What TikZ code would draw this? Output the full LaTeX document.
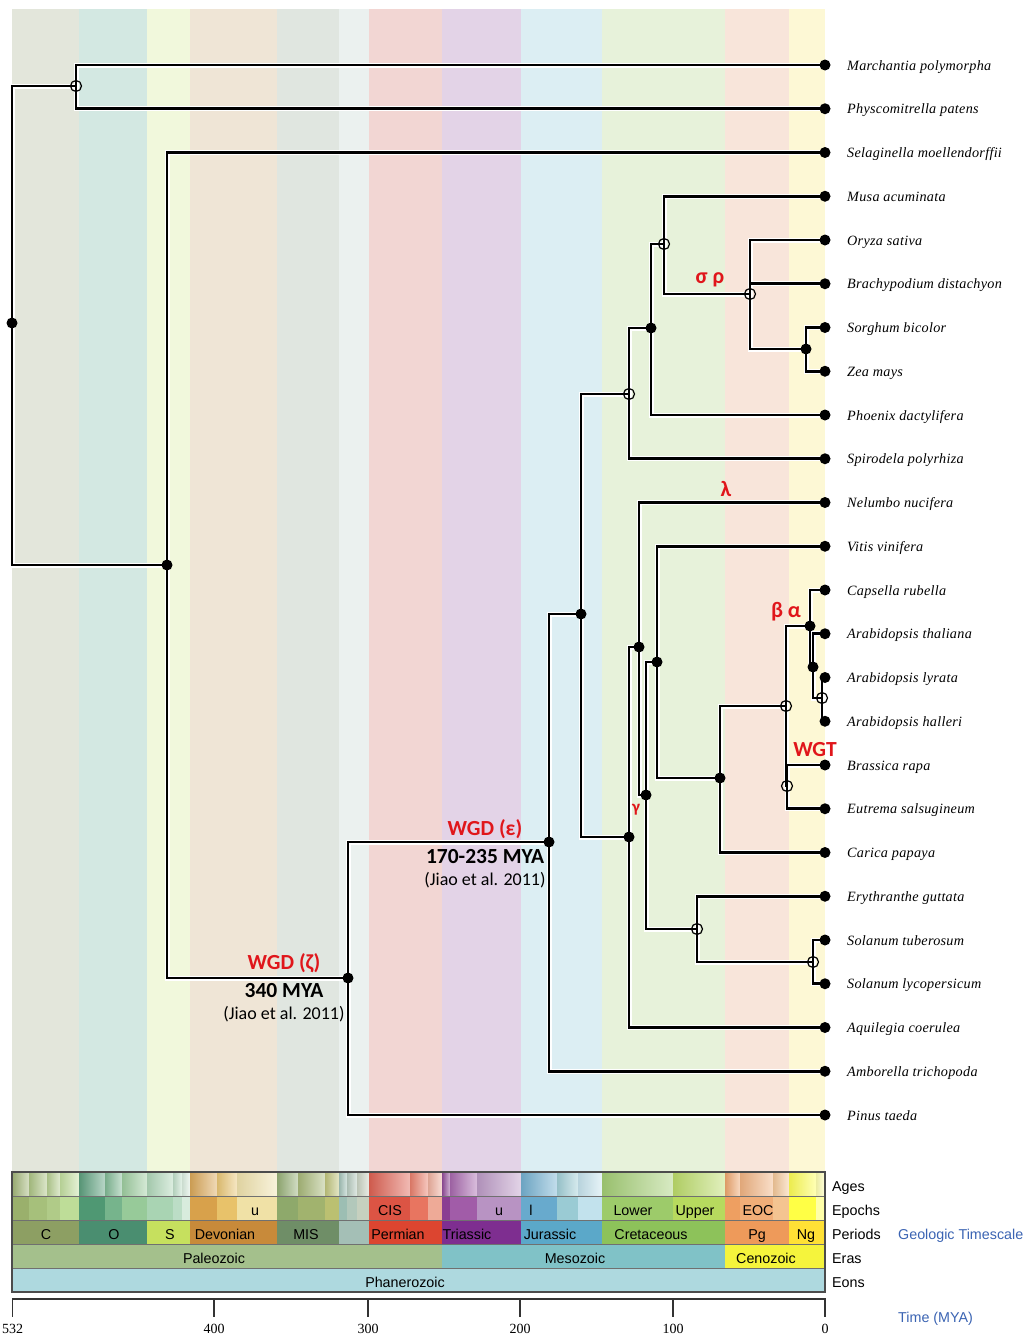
\documentclass[tikz,border=0pt]{standalone}
\usepackage{fontspec}
\setmainfont{Liberation Serif}
\newfontfamily\calib{Carlito}
\newfontfamily\arial{Liberation Sans}
\newfontfamily\leaffont{Liberation Serif}[LetterSpace=2]
\definecolor{wred}{HTML}{E0161B}
\definecolor{tblue}{HTML}{3B64B3}
\definecolor{gridgray}{HTML}{707070}
\tikzset{
  halo/.style={white, line width=5pt},
  branch/.style={black, line width=2.8pt},
  fdot/.style={circle, fill=black, inner sep=0pt, minimum size=11pt},
  odot/.style={circle, draw=black, line width=1.2pt, inner sep=0pt, minimum size=11pt},
  leaflab/.style={anchor=base west, inner sep=0pt, font=\leaffont\itshape\fontsize{14.2}{16}\selectfont},
  tslab/.style={anchor=base, inner sep=0pt, font=\arial\fontsize{14.3}{16}\selectfont},
  rowlab/.style={anchor=base west, inner sep=0pt, font=\arial\fontsize{14.3}{16}\selectfont},
  axlab/.style={anchor=base, inner sep=0pt, font=\fontsize{14}{16}\selectfont},
  wgd/.style={inner sep=0pt, text=wred, font=\calib\bfseries\fontsize{21.5}{24}\selectfont},
  mya/.style={inner sep=0pt, font=\calib\bfseries\fontsize{21.5}{24}\selectfont},
  cite/.style={inner sep=0pt, font=\calib\fontsize{18}{20}\selectfont},
  greek/.style={inner sep=0pt, text=wred, font=\calib\bfseries\fontsize{22}{24}\selectfont},
}
\newcommand\treeedges[1]{%
  \foreach \p/\c in {root/bryo, root/trach, bryo/march, bryo/physco,
    trach/sela, trach/seed, seed/angio, seed/pinus, angio/mesang, angio/ambo,
    mesang/mono, mesang/eudn, mono/monob, mono/spiro, monob/monoc, monob/phoen,
    monoc/musa, monoc/poac, poac/oryza, poac/brachy, poac/pani, pani/sorg, pani/zea,
    eudn/eud, eudn/aqui, eud/nelum, eud/core, core/ros, core/ast,
    ros/vitis, ros/rosb, rosb/brasa, rosb/cari, brasa/brasc, brasa/brasb,
    brasb/brass, brasb/eutr, brasc/caps, brasc/brasd, brasd/athal, brasd/brase,
    brase/alyr, brase/ahal, ast/eryth, ast/sol, sol/stub, sol/slyc}
    {\draw[#1] (\p) |- (\c);}%
}
\begin{document}
\begin{tikzpicture}[x=1pt,y=-1pt]
\useasboundingbox (0,0) rectangle (1032,1339);
\fill[white] (0,0) rectangle (1032,1339);
% background period bands
\foreach \a/\b/\c in {12/79/E3E6DB, 79/147/D3E8E2, 147/190/F1F8DC, 190/277/EFE5D6,
  277/339/E0E6E0, 339/369/EBF1EF, 369/442/F2D6D3, 442/521/E3D3E7, 521/602/DCEEF3,
  602/725/E7F2DA, 725/789/F8E5DA, 789/825/FDF8D5}
  {\definecolor{bandc}{HTML}{\c}\fill[bandc] (\a,9) rectangle (\b,1172);}
% ages and epochs rows
\foreach \a/\b/\c in {12/29/9AB06C, 29/47/A6C07B, 47/60/B0CB88, 60/79/BEDD98,
  79/105/4F9873, 105/122/76B48C, 122/147/97CA99,
  147/173/A9D4B3, 173/182/BCDDC6, 182/190/D8ECDD,
  190/217/D8A14B, 217/237/E8C26A, 237/277/F0E1A6,
  277/298/8EA96B, 298/325/A1B36E, 325/339/BBC071,
  339/347/9CBEB3, 347/357/B2C8BB, 357/369/C6D0BF,
  369/410/DC5444, 410/428/E87560, 428/442/EEAA97,
  442/450/8A3E92, 450/477/A15CA8, 477/521/B893C3,
  521/557/68AACD, 557/578/9ACBD4, 578/602/C2E2ED,
  602/673/9DCB6A, 673/725/B7DA5E,
  725/740/EE9F61, 740/773/F1AE78, 773/789/F4C491,
  789/816/FFFF45, 816/825/FFFFA8}
  {\definecolor{epc}{HTML}{\c}%
   \fill[epc] (\a,1196) rectangle (\b,1220);
   \shade[left color=epc!85!gray, right color=epc!40!white] (\a,1172) rectangle (\b,1196);}
% periods row
\foreach \a/\b/\c in {12/79/8D9F63, 79/147/4A8E70, 147/190/C6E05E, 190/277/C88A3A,
  277/339/6F8E67, 339/369/A4BFB6, 369/442/DC4530, 442/521/7E2E90, 521/602/5BA8C9,
  602/725/8DC25A, 725/789/EE9A5A, 789/825/FFE135}
  {\definecolor{perc}{HTML}{\c}\fill[perc] (\a,1220) rectangle (\b,1244);}
% eras and eons
\definecolor{paleo}{HTML}{A4C08C}\definecolor{meso}{HTML}{80C2C7}
\definecolor{ceno}{HTML}{F5F43C}\definecolor{phan}{HTML}{AED9DF}
\fill[paleo] (12,1244) rectangle (442,1268);
\fill[meso] (442,1244) rectangle (725,1268);
\fill[ceno] (725,1244) rectangle (825,1268);
\fill[phan] (12,1268) rectangle (825,1292);
\foreach \yy in {1172,1196,1220,1244,1268}
  {\draw[gridgray, line width=0.9pt] (12,\yy) -- (825,\yy);}
\draw[black!70, line width=1.2pt] (12,1172) rectangle (825,1292);
% timescale labels
\foreach \x/\t in {255/u, 390/CIS, 499/u, 531/l, 633/Lower, 695/Upper, 758/EOC}
  {\node[tslab] (ep\x) at (\x,1215) {\t};}
\foreach \x/\t in {46/C, 114/O, 170/S, 225/Devonian, 306/MIS, 398/Permian,
  467/Triassic, 550/Jurassic, 651/Cretaceous, 757/Pg, 806/Ng}
  {\node[tslab] (pe\x) at (\x,1239) {\t};}
\node[tslab] (era1) at (214,1263) {Paleozoic};
\node[tslab] (era2) at (575,1263) {Mesozoic};
\node[tslab] (era3) at (766,1263) {Cenozoic};
\node[tslab] (eon1) at (405,1287) {Phanerozoic};
\node[rowlab] (rAges) at (832,1191) {Ages};
\node[rowlab] (rEpochs) at (832,1215) {Epochs};
\node[rowlab] (rPeriods) at (832,1239) {Periods};
\node[rowlab] (rEras) at (832,1263) {Eras};
\node[rowlab] (rEons) at (832,1287) {Eons};
\node[rowlab, text=tblue] (geo) at (898,1239) {Geologic Timescale};
\node[rowlab, text=tblue] (time) at (898,1322) {Time (MYA)};
% axis
\coordinate (axL) at (12,1299);
\coordinate (axR) at (826,1299);
\draw[black!80, line width=1.5pt] (axL) -- (axR);
\foreach \x/\t in {12.7/532, 214/400, 368/300, 520/200, 673/100, 825/0}
  {\coordinate (tk\t) at (\x,1299);
   \draw[black!80, line width=1.5pt] (tk\t) -- ++(0,18);
   \node[axlab] (al\t) at (\x,1333) {\t};}
% tree: internal nodes
\coordinate (root) at (12,323);
\coordinate (bryo) at (76,86);
\coordinate (trach) at (167,565);
\coordinate (seed) at (348,978);
\coordinate (angio) at (549,842);
\coordinate (mesang) at (581,614);
\coordinate (mono) at (629,394);
\coordinate (monob) at (651,328);
\coordinate (monoc) at (664,244);
\coordinate (poac) at (750,294);
\coordinate (pani) at (806,349);
\coordinate (eudn) at (629,837);
\coordinate (eud) at (639,647);
\coordinate (core) at (646,795);
\coordinate (ros) at (657,662);
\coordinate (rosb) at (720,778);
\coordinate (brasa) at (786,706);
\coordinate (brasb) at (787,786);
\coordinate (brasc) at (810,626);
\coordinate (brasd) at (813,667);
\coordinate (brase) at (822,698);
\coordinate (ast) at (697,929);
\coordinate (sol) at (813,962);
% leaves
\foreach \n/\t [count=\i from 0] in {march/Marchantia polymorpha, physco/Physcomitrella patens,
  sela/Selaginella moellendorffii, musa/Musa acuminata, oryza/Oryza sativa,
  brachy/Brachypodium distachyon, sorg/Sorghum bicolor, zea/Zea mays,
  phoen/Phoenix dactylifera, spiro/Spirodela polyrhiza, nelum/Nelumbo nucifera,
  vitis/Vitis vinifera, caps/Capsella rubella, athal/Arabidopsis thaliana,
  alyr/Arabidopsis lyrata, ahal/Arabidopsis halleri, brass/Brassica rapa,
  eutr/Eutrema salsugineum, cari/Carica papaya, eryth/Erythranthe guttata,
  stub/Solanum tuberosum, slyc/Solanum lycopersicum, aqui/Aquilegia coerulea,
  ambo/Amborella trichopoda, pinus/Pinus taeda}
  {\coordinate (\n) at (825,65+43.75*\i);
   \node[leaflab] (\n lab) at (847,70+43.75*\i) {\t};}
% edges, two passes
\treeedges{halo}
\treeedges{branch}
% dots
\foreach \n in {root, trach, seed, angio, mesang, monob, pani, eudn, eud, core, ros, rosb, brasc, brasd,
  march, physco, sela, musa, oryza, brachy, sorg, zea, phoen, spiro, nelum, vitis, caps, athal,
  alyr, ahal, brass, eutr, cari, eryth, stub, slyc, aqui, ambo, pinus}
  {\node[fdot] (\n dot) at (\n) {};}
\foreach \n in {bryo, mono, monoc, poac, brasa, brasb, brase, ast, sol}
  {\node[odot] (\n dot) at (\n) {};}
% event labels
\node[wgd] (zeta) at (284,963) {WGD (ζ)};
\node[mya] (zetamya) at (284,991) {340 MYA};
\node[cite] (zetacite) at (284,1014) {(Jiao et al. 2011)};
\node[wgd] (eps) at (485,829) {WGD (ε)};
\node[mya] (epsmya) at (485,857) {170-235 MYA};
\node[cite] (epscite) at (485,880) {(Jiao et al. 2011)};
\node[greek] (sigrho) at (710,280) {σ ρ};
\node[greek] (lam) at (726,489) {λ};
\node[greek] (betalpha) at (786,612) {β α};
\node[greek, font=\calib\bfseries\fontsize{17}{20}\selectfont] (gam) at (636,810) {γ};
\node[wgd] (wgt) at (815,750) {WGT};
\end{tikzpicture}
\end{document}
